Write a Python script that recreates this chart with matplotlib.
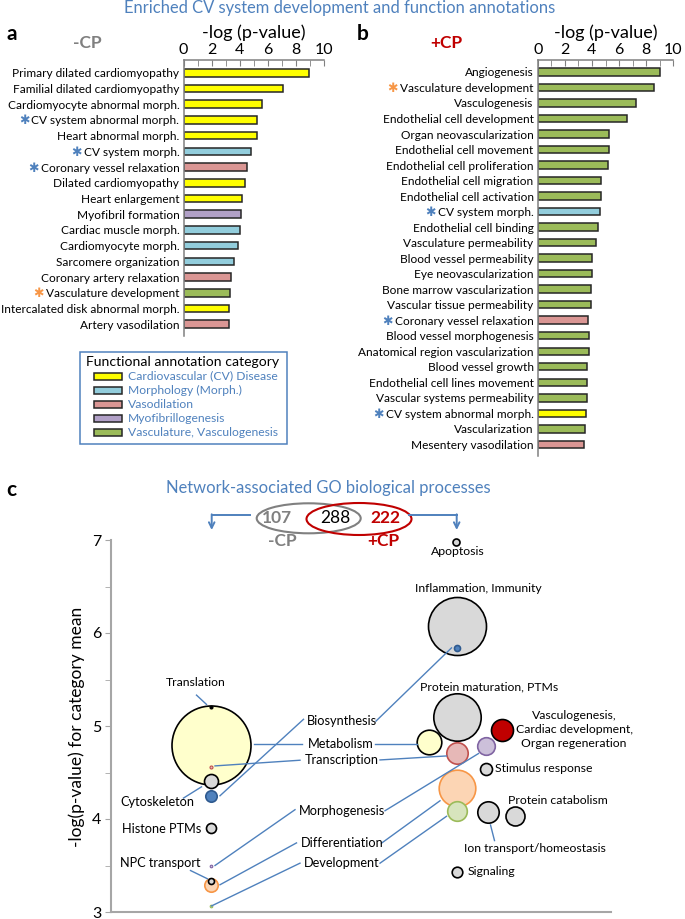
import matplotlib
matplotlib.use('Agg')
import matplotlib.pyplot as plt
from matplotlib.patches import Ellipse, Rectangle

plt.rcParams['font.family'] = ['Lato', 'DejaVu Sans']

W, H = 685, 919
BLUE = '#4F81BD'
ORANGE = '#F79646'
RED = '#C00000'
GREY = '#808080'

# ---- panel a / b data ----
cat_names = ['Cardiovascular (CV) Disease', 'Morphology (Morph.)', 'Vasodilation',
             'Myofibrillogenesis', 'Vasculature, Vasculogenesis']
cat_colors = ['#FFFF00', '#92CDDC', '#DA9694', '#B1A0C7', '#9BBB59']

a_labels = ['Primary dilated cardiomyopathy', 'Familial dilated cardiomyopathy',
            'Cardiomyocyte abnormal morph.', 'CV system abnormal morph.',
            'Heart abnormal morph.', 'CV system morph.', 'Coronary vessel relaxation',
            'Dilated cardiomyopathy', 'Heart enlargement', 'Myofibril formation',
            'Cardiac muscle morph.', 'Cardiomyocyte morph.', 'Sarcomere organization',
            'Coronary artery relaxation', 'Vasculature development',
            'Intercalated disk abnormal morph.', 'Artery vasodilation']
a_values = [8.9, 7.1, 5.6, 5.25, 5.25, 4.8, 4.5, 4.4, 4.15, 4.07, 4.0, 3.88, 3.57,
            3.4, 3.33, 3.24, 3.24]
a_cats = [0, 0, 0, 0, 0, 1, 2, 0, 0, 3, 1, 1, 1, 2, 4, 0, 2]
a_marks = ['', '', '', 'b', '', 'b', 'b', '', '', '', '', '', '', '', 'o', '', '']

b_labels = ['Angiogenesis', 'Vasculature development', 'Vasculogenesis',
            'Endothelial cell development', 'Organ neovascularization',
            'Endothelial cell movement', 'Endothelial cell proliferation',
            'Endothelial cell migration', 'Endothelial cell activation', 'CV system morph.',
            'Endothelial cell binding', 'Vasculature permeability',
            'Blood vessel permeability', 'Eye neovascularization',
            'Bone marrow vascularization', 'Vascular tissue permeability',
            'Coronary vessel relaxation', 'Blood vessel morphogenesis',
            'Anatomical region vascularization', 'Blood vessel growth',
            'Endothelial cell lines movement', 'Vascular systems permeability',
            'CV system abnormal morph.', 'Vascularization', 'Mesentery vasodilation']
b_values = [9.05, 8.6, 7.25, 6.6, 5.28, 5.28, 5.16, 4.67, 4.67, 4.6, 4.47, 4.32, 4.02,
            3.98, 3.9, 3.9, 3.73, 3.75, 3.75, 3.63, 3.63, 3.63, 3.53, 3.49, 3.43]
b_cats = [4, 4, 4, 4, 4, 4, 4, 4, 4, 1, 4, 4, 4, 4, 4, 4, 2, 4, 4, 4, 4, 4, 0, 4, 2]
b_marks = ['', 'o', '', '', '', '', '', '', '', 'b', '', '', '', '', '', '', 'b', '',
           '', '', '', '', 'b', '', '']

# ---- panel c data ----
venn_counts = ['107', '288', '222']
go_proc = ['Metabolism', 'Translation', 'Transcription', 'Cytoskeleton', 'Biosynthesis',
           'Histone PTMs', 'Morphogenesis', 'NPC transport', 'Differentiation',
           'Development',
           'Apoptosis', 'Inflammation, Immunity', 'Biosynthesis', 'Protein maturation, PTMs',
           'Vasculogenesis', 'Metabolism', 'Morphogenesis', 'Transcription',
           'Stimulus response', 'Differentiation', 'Development', 'Ion transport/homeostasis',
           'Protein catabolism', 'Signaling']
go_x = [20, 20, 20, 20, 20, 20, 20, 20, 20, 20,
        69, 69.2, 69.2, 69.2, 78.1, 63.6, 74.9, 69.2, 74.9, 69.2, 69.2, 75.3, 80.7, 69.2]
go_y = [4.80, 5.20, 4.56, 4.41, 4.25, 3.90, 3.50, 3.33, 3.29, 3.06,
        6.98, 6.08, 5.84, 5.10, 4.96, 4.83, 4.78, 4.71, 4.54, 4.33, 4.09, 4.08, 4.03, 3.43]
go_size = [39.5, 1.5, 1.5, 7, 5.7, 5, 1.3, 3, 6.7, 1.3,
           3.5, 29, 3, 23.7, 11, 12.3, 8.8, 10.7, 6, 18.3, 9.8, 10.7, 9.5, 5.3]

go_style = {
    'Metabolism': ('#FFFFCC', '#000000'),
    'Transcription': ('#E6B8B7', '#C0504D'),
    'Morphogenesis': ('#CCC0DA', '#8064A2'),
    'Differentiation': ('#FCD5B4', ORANGE),
    'Development': ('#D7E4BD', '#9BBB59'),
    'Biosynthesis': ('#4F81BD', '#2F5A8F'),
    'Vasculogenesis': ('#C00000', '#000000'),
    'Translation': ('#000000', '#000000'),
}

fig = plt.figure(figsize=(W / 100, H / 100), dpi=100)
ov = fig.add_axes([0, 0, 1, 1])
ov.set_xlim(0, W)
ov.set_ylim(H, 0)
ov.axis('off')


def px_axes(x0, y0, x1, y1):
    return fig.add_axes([x0 / W, 1 - y1 / H, (x1 - x0) / W, (y1 - y0) / H])


def bar_panel(ax, labels, values, cats, ylim):
    y = list(range(len(labels)))
    ax.barh(y, values, height=0.48, color=[cat_colors[c] for c in cats],
            edgecolor='#262626', linewidth=1.1)
    ax.set_xlim(0, 10)
    ax.set_ylim(*ylim)
    ax.xaxis.tick_top()
    ax.xaxis.set_label_position('top')
    ax.set_xticks(range(0, 11, 2))
    ax.set_xticks(range(1, 10, 2), minor=True)
    ax.tick_params(axis='x', which='both', direction='in', length=4, color=GREY,
                   labelsize=11.5, pad=2)
    ax.set_yticks(y, labels)
    ax.tick_params(axis='y', length=0, labelsize=8.6, pad=3)
    ax.set_xlabel('-log (p-value)', fontsize=13, labelpad=3.5)
    for s in ['bottom', 'right']:
        ax.spines[s].set_visible(False)
    for s in ['top', 'left']:
        ax.spines[s].set_color(GREY)
        ax.spines[s].set_linewidth(1.1)
    ax.patch.set_alpha(0)


ax_a = px_axes(183.5, 60, 324, 336)
bar_panel(ax_a, a_labels, a_values, a_cats, (16.75, -0.81))
ax_b = px_axes(537.7, 60, 673.3, 456)
bar_panel(ax_b, b_labels, b_values, b_cats, (24.75, -0.77))

# titles and panel letters
ov.text(340, 8, 'Enriched CV system development and function annotations', color=BLUE,
        fontsize=11.9, ha='center', va='center')
ov.text(12, 34, 'a', fontsize=15, fontweight='bold', ha='center', va='center')
ov.text(363, 34, 'b', fontsize=15, fontweight='bold', ha='center', va='center')
ov.text(87.5, 43.5, '-CP', color=GREY, fontsize=12.5, fontweight='bold', ha='center', va='center')
ov.text(446, 43.5, '+CP', color=RED, fontsize=12.5, fontweight='bold', ha='center', va='center')

# legend box
ov.add_patch(Rectangle((80, 351.7), 207.3, 92.3, fill=False, edgecolor=BLUE, lw=1.1))
ov.text(86, 361.7, 'Functional annotation category', fontsize=10.1, ha='left', va='center')
for i, (name, col) in enumerate(zip(cat_names, cat_colors)):
    yy = 376 + i * 14.2
    ov.add_patch(Rectangle((94, yy - 3.5), 27.7, 7, facecolor=col, edgecolor='#262626', lw=1.1))
    ov.text(127.7, yy, name, color=BLUE, fontsize=8.7, ha='left', va='center')

# ---- panel c ----
ax_c = px_axes(111, 540, 611, 912)
ax_c.set_xlim(0, 100)
ax_c.set_ylim(3, 7)
ax_c.set_xticks([])
ax_c.set_yticks([3, 4, 5, 6, 7])
ax_c.set_yticks([3.5, 4.5, 5.5, 6.5], minor=True)
ax_c.tick_params(axis='y', which='both', direction='out', length=4, color='#A6A6A6',
                 labelsize=11.5, pad=3)
for s in ['top', 'right']:
    ax_c.spines[s].set_visible(False)
for s in ['left', 'bottom']:
    ax_c.spines[s].set_color('#A6A6A6')
    ax_c.spines[s].set_linewidth(1.5)
ax_c.patch.set_alpha(0)

order = sorted(range(len(go_proc)), key=lambda k: -go_size[k])
for z, k in enumerate(order):
    face, edge = go_style.get(go_proc[k], ('#D9D9D9', '#000000'))
    d = 2 * go_size[k] * 0.72
    lw = 0.8 if go_size[k] < 2 else 1.2
    ax_c.scatter(go_x[k], go_y[k], s=d ** 2, facecolor=face, edgecolor=edge,
                 linewidths=lw, zorder=3 + z * 0.01, clip_on=False)

# leader lines (from label to bubbles)
leaders = [
    [(17.1, 5.332), (19.1, 5.232)],
    [(21.8, 4.250), (38.5, 5.072)], [(53.0, 5.053), (68.1, 5.840)],
    [(28.6, 4.811), (38.1, 4.811)], [(52.8, 4.811), (61.1, 4.811)],
    [(20.8, 4.571), (37.8, 4.632)], [(53.8, 4.635), (67.1, 4.678)],
    [(14.5, 4.225), (18.1, 4.346)],
    [(20.8, 3.500), (36.8, 4.100)], [(54.8, 4.089), (73.5, 4.704)],
    [(21.8, 3.293), (37.1, 3.743)], [(54.1, 3.740), (65.8, 4.196)],
    [(20.1, 3.065), (37.8, 3.525)], [(53.8, 3.525), (67.1, 4.029)],
    [(15.9, 3.446), (19.3, 3.357)],
    [(75.9, 3.936), (76.7, 3.768)],
]
for (x0, y0), (x1, y1) in leaders:
    ax_c.plot([x0, x1], [y0, y1], color=BLUE, lw=1.0, zorder=5, clip_on=False)

go_labels = [
    ('Translation', 17.0, 5.465, 'center', 8.8),
    ('Biosynthesis', 39.2, 5.053, 'left', 9.2),
    ('Metabolism', 39.4, 4.803, 'left', 9.2),
    ('Transcription', 38.8, 4.632, 'left', 9.2),
    ('Cytoskeleton', 9.2, 4.185, 'center', 9.2),
    ('Histone PTMs', 18.1, 3.893, 'right', 9.2),
    ('Morphogenesis', 37.6, 4.089, 'left', 9.2),
    ('Differentiation', 38.0, 3.740, 'left', 9.2),
    ('Development', 38.6, 3.525, 'left', 9.2),
    ('NPC transport', 9.8, 3.525, 'center', 9.2),
    ('Ion transport/homeostasis', 84.7, 3.686, 'center', 8.8),
    ('Signaling', 71.3, 3.435, 'left', 8.8),
    ('Stimulus response', 76.8, 4.543, 'left', 8.8),
    ('Protein catabolism', 79.3, 4.204, 'left', 8.8),
    ('Vasculogenesis,\nCardiac development,\nOrgan regeneration', 92.6, 4.964, 'center', 8.8),
    ('Protein maturation, PTMs', 75.6, 5.422, 'center', 8.8),
    ('Inflammation, Immunity', 73.4, 6.475, 'center', 8.8),
    ('Apoptosis', 69.4, 6.875, 'center', 8.8),
]
for txt, x, y, ha, fs in go_labels:
    ax_c.text(x, y, txt, ha=ha, va='center', fontsize=fs, linespacing=1.3, zorder=6)

ov.text(77, 727, '-log(p-value) for category mean', rotation=90, fontsize=12.5,
        ha='center', va='center')
ov.text(11, 490, 'c', fontsize=15, fontweight='bold', ha='center', va='center')
ov.text(328, 488, 'Network-associated GO biological processes', color=BLUE,
        fontsize=11.9, ha='center', va='center')

# venn of category counts
ov.add_patch(Ellipse((308.7, 518.3), 104, 30, fill=False, edgecolor=GREY, lw=1.5))
ov.add_patch(Ellipse((359, 519), 105, 32, fill=False, edgecolor=RED, lw=1.5))
ov.text(276.7, 518, venn_counts[0], color=GREY, fontsize=12.5, fontweight='bold',
        ha='center', va='center')
ov.text(335, 518, venn_counts[1], color='black', fontsize=12.5, ha='center', va='center')
ov.text(385, 518, venn_counts[2], color=RED, fontsize=12.5, fontweight='bold',
        ha='center', va='center')
ov.text(282.7, 541.5, '-CP', color=GREY, fontsize=12.5, fontweight='bold', ha='center', va='center')
ov.text(383.3, 541.5, '+CP', color=RED, fontsize=12.5, fontweight='bold', ha='center', va='center')
ov.plot([250, 211.7], [515, 515], color=BLUE, lw=1.4)
ov.plot([409.3, 456.7], [515, 515], color=BLUE, lw=1.4)
for xa in [211.7, 456.7]:
    ov.annotate('', xy=(xa, 530), xytext=(xa, 514.3),
                arrowprops=dict(arrowstyle='->', color=BLUE, lw=1.4,
                                shrinkA=0, shrinkB=0, mutation_scale=10))

# asterisks in front of marked labels
fig.canvas.draw()
for ax, marks in [(ax_a, a_marks), (ax_b, b_marks)]:
    for lab, m in zip(ax.get_yticklabels(), marks):
        if not m:
            continue
        bb = lab.get_window_extent()
        ov.text(bb.x0 - 2, H - (bb.y0 + bb.y1) / 2, '\u2731', family='DejaVu Sans',
                color=BLUE if m == 'b' else ORANGE, fontsize=9, ha='right', va='center')

fig.savefig('out.png', dpi=100)
